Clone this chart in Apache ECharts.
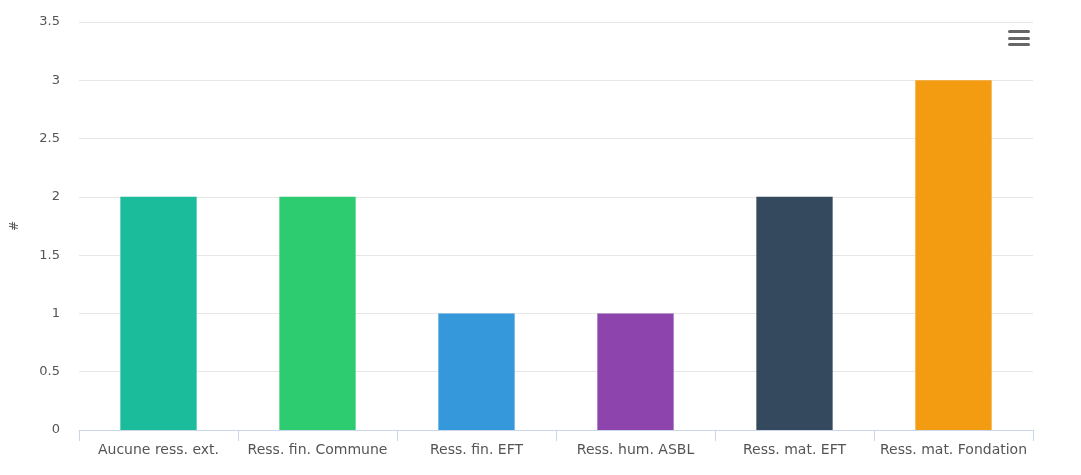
<!DOCTYPE html>
<html><head><meta charset="utf-8">
<script src="https://cdn.jsdelivr.net/npm/echarts@6/dist/echarts.min.js"></script>
<style>html,body{margin:0;padding:0;background:#fff}#c{width:1081px;height:475px}</style>
</head><body><div id="c"></div>
<script>
const categories = ["Aucune ress. ext.", "Ress. fin. Commune", "Ress. fin. EFT", "Ress. hum. ASBL", "Ress. mat. EFT", "Ress. mat. Fondation"];
const values = [2, 2, 1, 1, 2, 3];
const colors = ["#1abc9c", "#2ecc71", "#3498db", "#8e44ad", "#34495e", "#f39c12"];
const yName = "#";

const chart = echarts.init(document.getElementById('c'), null, {renderer: 'canvas'});
chart.setOption({
  animation: false,
  grid: {left: 79, right: 48, top: 22, bottom: 45, containLabel: false},
  xAxis: {
    type: 'category', data: categories,
    axisLine: {lineStyle: {color: '#ccd6eb'}},
    axisTick: {show: true, length: 11, lineStyle: {color: '#ccd6eb'}, alignWithLabel: false},
    axisLabel: {color: '#555', fontSize: 14, fontFamily: 'DejaVu Sans', margin: 13, interval: 0}
  },
  yAxis: {
    type: 'value', min: 0, max: 3.5, interval: 0.5,
    name: yName, nameLocation: 'middle', nameRotate: 90, nameGap: 58,
    nameTextStyle: {color: '#555', fontSize: 12, fontFamily: 'DejaVu Sans'},
    axisLine: {show: false}, axisTick: {show: false},
    splitLine: {lineStyle: {color: '#e6e6e6'}},
    axisLabel: {color: '#555', fontSize: 13, fontFamily: 'DejaVu Sans', margin: 19}
  },
  series: [{
    type: 'bar', barWidth: '48%',
    data: values.map((v, i) => ({value: v, itemStyle: {color: colors[i]}}))
  }],
  graphic: [
    {type: 'rect', left: 1008, top: 30, shape: {width: 22, height: 3, r: 1.5}, style: {fill: '#666'}},
    {type: 'rect', left: 1008, top: 37, shape: {width: 22, height: 3, r: 1.5}, style: {fill: '#666'}},
    {type: 'rect', left: 1008, top: 43, shape: {width: 22, height: 3, r: 1.5}, style: {fill: '#666'}}
  ]
});
</script></body></html>
